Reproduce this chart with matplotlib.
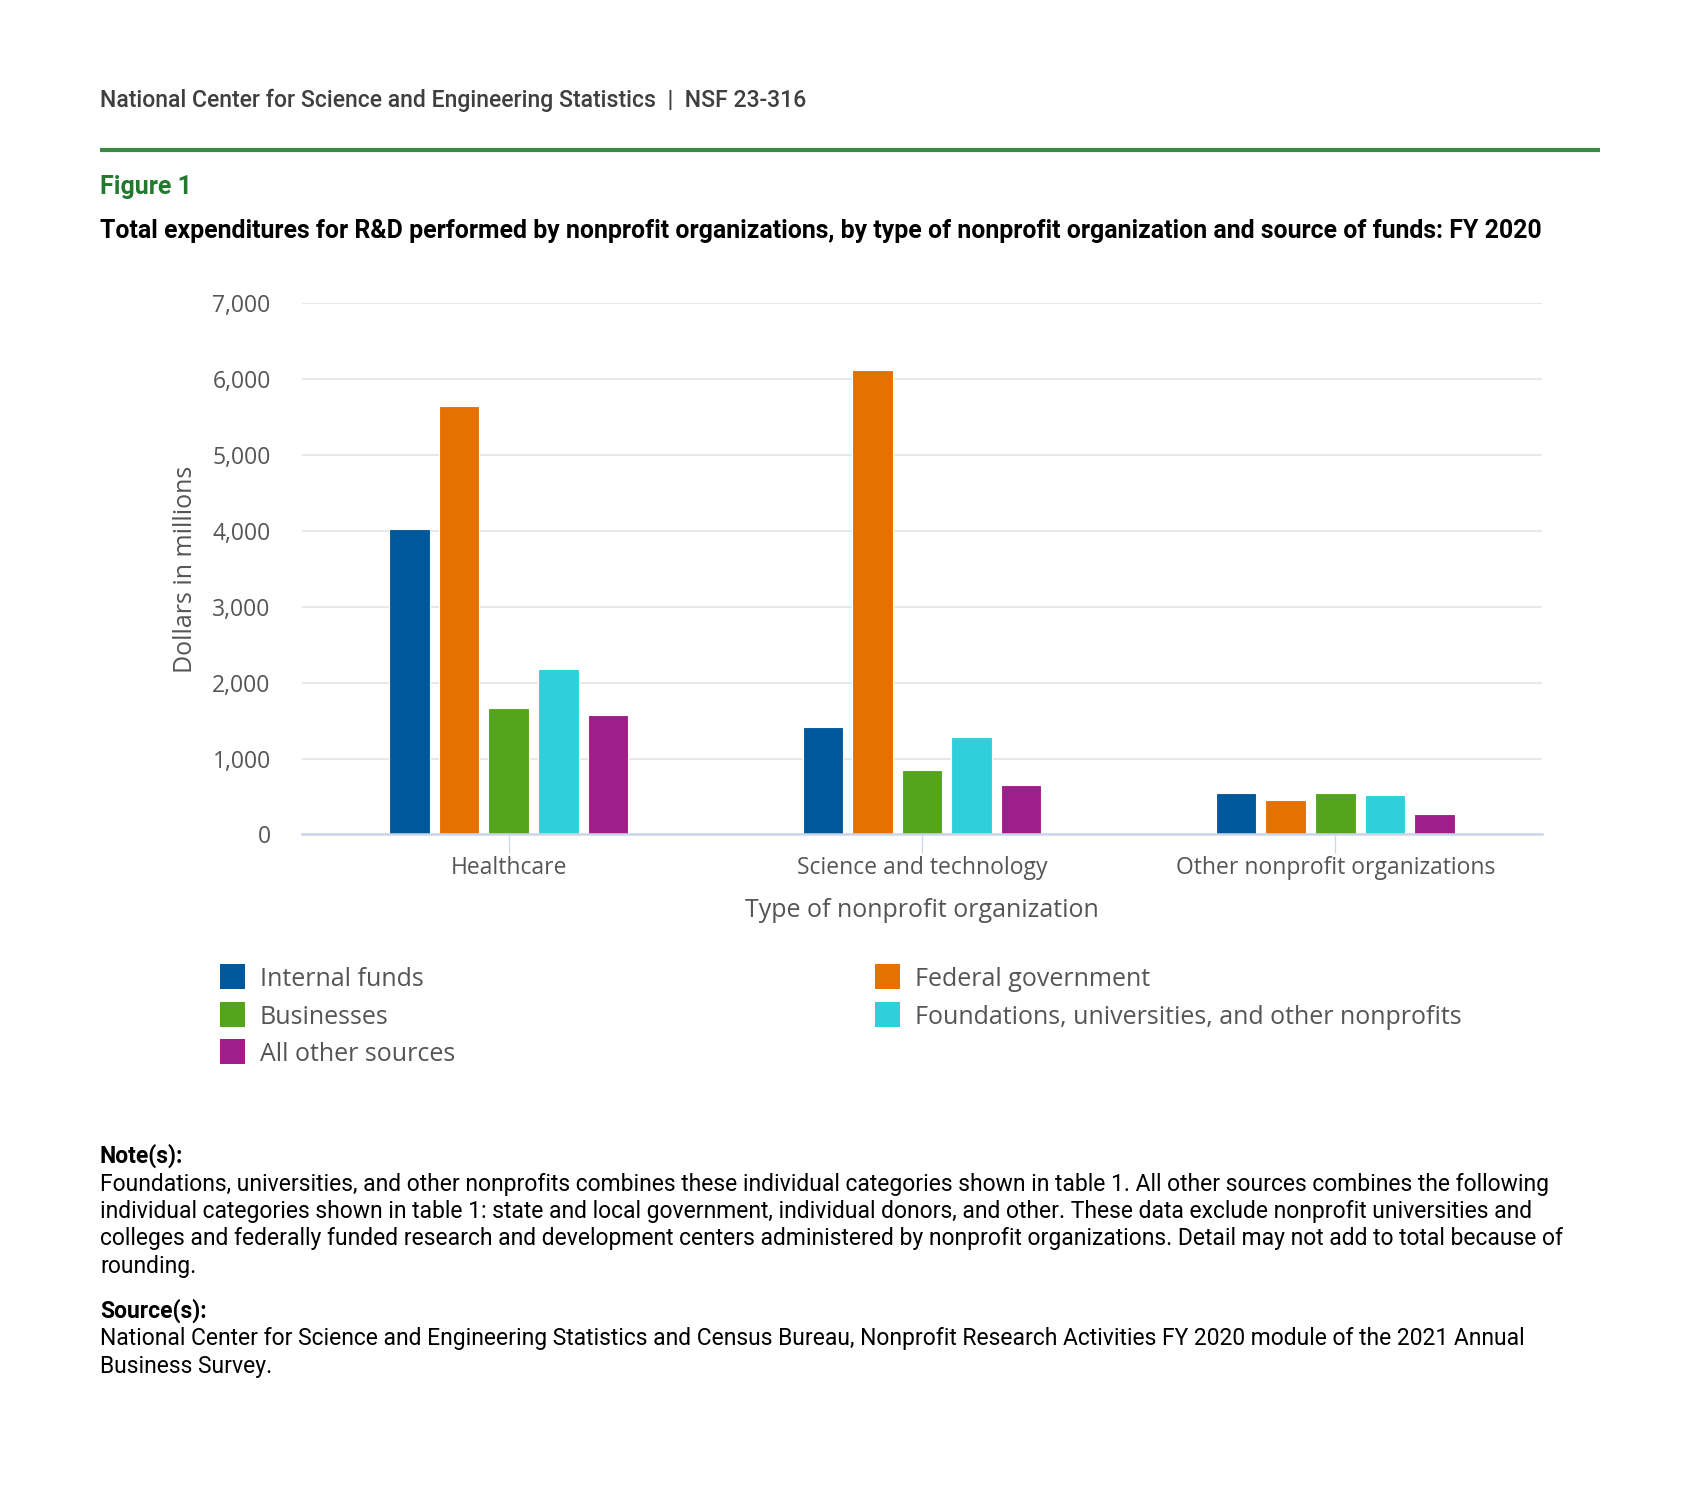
import matplotlib
matplotlib.use("Agg")
import matplotlib.pyplot as plt
import numpy as np
from matplotlib.patches import Rectangle
from matplotlib.lines import Line2D

# ---------------- data ----------------
categories = ["Healthcare", "Science and technology", "Other nonprofit organizations"]
series_names = ["Internal funds", "Federal government", "Businesses",
                "Foundations, universities, and other nonprofits", "All other sources"]
internal_funds = [4020, 1410, 540]
federal_government = [5645, 6120, 450]
businesses = [1660, 845, 540]
foundations = [2185, 1280, 515]
all_other = [1580, 645, 265]
series_values = [internal_funds, federal_government, businesses, foundations, all_other]
colors = ["#00589c", "#e57200", "#54a51c", "#2fd0da", "#a01e8a"]
y_ticks = [0, 1000, 2000, 3000, 4000, 5000, 6000, 7000]
y_tick_labels = ["0", "1,000", "2,000", "3,000", "4,000", "5,000", "6,000", "7,000"]

header = "National Center for Science and Engineering Statistics  |  NSF 23-316"
fig_label = "Figure 1"
title = ("Total expenditures for R&D performed by nonprofit organizations, "
         "by type of nonprofit organization and source of funds: FY 2020")
note_lines = [
    "Foundations, universities, and other nonprofits combines these individual categories shown in table 1. All other sources combines the following",
    "individual categories shown in table 1: state and local government, individual donors, and other. These data exclude nonprofit universities and",
    "colleges and federally funded research and development centers administered by nonprofit organizations. Detail may not add to total because of",
    "rounding.",
]
source_lines = [
    "National Center for Science and Engineering Statistics and Census Bureau, Nonprofit Research Activities FY 2020 module of the 2021 Annual",
    "Business Survey.",
]

# ---------------- figure ----------------
W, H = 1699, 1488
fig = plt.figure(figsize=(W / 100, H / 100), dpi=100)
fig.patch.set_facecolor("white")

def fx(px):
    return px / W

def fy(py):
    return 1 - py / H

ROBOTO = ["Roboto", "DejaVu Sans"]
OPEN = ["Open Sans", "DejaVu Sans"]

# header
fig.text(fx(100), fy(107.5), header, family=ROBOTO, fontsize=16.57, fontweight=500,
         color="#3f3f3f", va="baseline", ha="left")
fig.add_artist(Line2D([fx(100), fx(1600)], [fy(150), fy(150)], color="#3a8a45",
                      lw=3, transform=fig.transFigure, solid_capstyle="butt"))
fig.text(fx(100), fy(194), fig_label, family=ROBOTO, fontsize=18, fontweight="bold",
         color="#217a2e", va="baseline", ha="left")
fig.text(fx(100), fy(238), title, family=ROBOTO, fontsize=17.92, fontweight="bold",
         color="#000000", va="baseline", ha="left")

# axes
left, right, top, bottom = 302, 1542, 303.4, 834.4
ax = fig.add_axes([fx(left), fy(bottom), fx(right - left), (bottom - top) / H])
ax.set_facecolor("white")

x = np.arange(len(categories))
pitch = 0.12
bar_w = 0.098
for i, (name, vals, c) in enumerate(zip(series_names, series_values, colors)):
    ax.bar(x + (i - 2) * pitch, vals, width=bar_w, color=c, edgecolor="white",
           linewidth=0.8, label=name, zorder=3)

ax.set_xlim(-0.5, len(categories) - 0.5)
ax.set_ylim(0, 7000)
ax.set_yticks(y_ticks)
ax.set_yticklabels(y_tick_labels, family=OPEN, fontsize=16.5, color="#555555")
ax.set_xticks(x)
ax.set_xticklabels(categories, family=OPEN, fontsize=16.5, color="#555555")
ax.tick_params(axis="y", length=0, pad=22.5)
ax.tick_params(axis="x", length=13.7, width=0.9, color="#ccd6eb", pad=1.5)
ax.grid(axis="y", color="#e6e6e6", lw=1.3, zorder=0)
for s in ["top", "right", "left"]:
    ax.spines[s].set_visible(False)
ax.spines["bottom"].set_color("#ccd6eb")
ax.spines["bottom"].set_linewidth(1.8)
ax.spines["bottom"].set_zorder(4)

ax.set_ylabel("Dollars in millions", family=OPEN, fontsize=18, color="#555555")
ax.yaxis.set_label_coords((186 - left) / (right - left), 0.5)
ax.yaxis.label.set_va("center")
ax.set_xlabel("Type of nonprofit organization", family=OPEN, fontsize=18, color="#555555")
ax.xaxis.set_label_coords(0.5, -(916.7 - bottom) / (bottom - top))
ax.xaxis.label.set_va("baseline")

# legend (row-major, two columns)
leg_cols = [220, 875]
leg_rows = [964, 1002, 1039]
sq = 25
for i, (name, c) in enumerate(zip(series_names, colors)):
    col = i % 2
    row = i // 2
    x0 = leg_cols[col]
    y0 = leg_rows[row]
    fig.add_artist(Rectangle((fx(x0), fy(y0 + sq)), sq / W, sq / H, facecolor=c,
                             edgecolor="none", transform=fig.transFigure))
    fig.text(fx(x0 + 40), fy(y0 + sq / 2), name, family=OPEN, fontsize=18,
             color="#555555", va="center_baseline", ha="left")

# notes
NFS = 16.5
fig.text(fx(100), fy(1162.5), "Note(s):", family=ROBOTO, fontsize=NFS, fontweight="bold",
         color="#000000", va="baseline", ha="left")
note_base = [1190.5, 1218, 1245.5, 1272.5]
for yy, line in zip(note_base, note_lines):
    fig.text(fx(100), fy(yy), line, family=ROBOTO, fontsize=NFS, color="#000000",
             va="baseline", ha="left")
fig.text(fx(100), fy(1317.5), "Source(s):", family=ROBOTO, fontsize=NFS, fontweight="bold",
         color="#000000", va="baseline", ha="left")
src_base = [1345.5, 1372.5]
for yy, line in zip(src_base, source_lines):
    fig.text(fx(100), fy(yy), line, family=ROBOTO, fontsize=NFS, color="#000000",
             va="baseline", ha="left")

fig.savefig("out.png", dpi=100, facecolor="white")
